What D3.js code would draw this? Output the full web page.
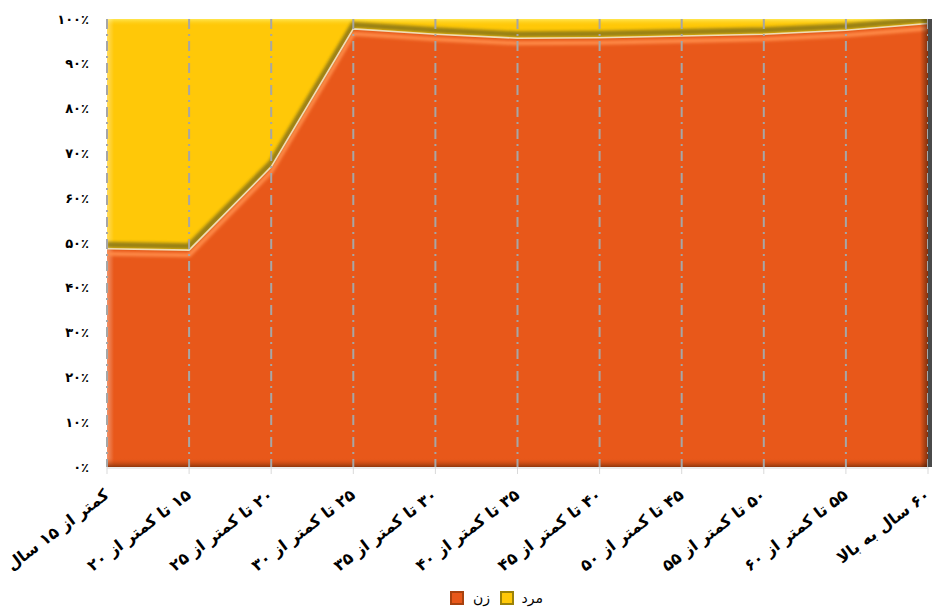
<!DOCTYPE html>
<html>
<head>
<meta charset="utf-8">
<script src="https://cdn.jsdelivr.net/npm/d3@7"></script>
<style>
  body { margin: 0; background: #fff; }
  svg { display: block; font-family: "DejaVu Sans", sans-serif; }
</style>
</head>
<body>
<script>
// age groups, share of women (زن) and men (مرد) in percent
var categories = ["کمتر از ۱۵ سال", "۱۵ تا کمتر از ۲۰", "۲۰ تا کمتر از ۲۵", "۲۵ تا کمتر از ۳۰",
    "۳۰ تا کمتر از ۳۵", "۳۵ تا کمتر از ۴۰", "۴۰ تا کمتر از ۴۵", "۴۵ تا کمتر از ۵۰",
    "۵۰ تا کمتر از ۵۵", "۵۵ تا کمتر از ۶۰", "۶۰ سال به بالا"];
var female = [48.7, 48.4, 67.0, 97.8, 96.6, 95.7, 95.8, 96.2, 96.6, 97.5, 99.0];
var male = [51.3, 51.6, 33.0, 2.2, 3.4, 4.3, 4.2, 3.8, 3.4, 2.5, 1.0];
var yTicks = [0, 10, 20, 30, 40, 50, 60, 70, 80, 90, 100];
var seriesNames = ["زن", "مرد"];

var w = 933, h = 609;
var pLeft = 107, pRight = 928, pTop = 19, pBottom = 467;
var orange = "#E8581A", yellow = "#FFC808";

function fa(s) {
    return String(s).replace(/[0-9]/g, function (c) { return "۰۱۲۳۴۵۶۷۸۹"[+c]; });
}

var rows = categories.map(function (c, i) {
    return { cat: c, female: female[i], male: male[i] };
});

var x = d3.scalePoint().domain(categories).range([pLeft, pRight]);
var y = d3.scaleLinear().domain([0, 1]).range([pBottom, pTop]);

var stack = d3.stack().keys(["female", "male"]).offset(d3.stackOffsetExpand);
var layers = stack(rows);

var svg = d3.select("body").append("svg").attr("width", w).attr("height", h);

var defs = svg.append("defs");
defs.append("clipPath").attr("id", "plot")
    .append("rect").attr("x", pLeft).attr("y", pTop)
    .attr("width", pRight - pLeft).attr("height", pBottom - pTop);
defs.append("filter").attr("id", "soft").attr("x", "-5%").attr("y", "-20%")
    .attr("width", "110%").attr("height", "140%")
    .append("feGaussianBlur").attr("stdDeviation", 1.6);

var gBottom = defs.append("linearGradient").attr("id", "bottomShade")
    .attr("x1", 0).attr("y1", 0).attr("x2", 0).attr("y2", 1);
gBottom.append("stop").attr("offset", "0%").attr("stop-color", orange).attr("stop-opacity", 0);
gBottom.append("stop").attr("offset", "100%").attr("stop-color", "#8E360C");
var gRight = defs.append("linearGradient").attr("id", "rightShade")
    .attr("x1", 0).attr("y1", 0).attr("x2", 1).attr("y2", 0);
gRight.append("stop").attr("offset", "0%").attr("stop-color", "#000").attr("stop-opacity", 0);
gRight.append("stop").attr("offset", "100%").attr("stop-color", "#000").attr("stop-opacity", 0.45);
var gTop = defs.append("linearGradient").attr("id", "topShade")
    .attr("x1", 0).attr("y1", 0).attr("x2", 0).attr("y2", 1);
gTop.append("stop").attr("offset", "0%").attr("stop-color", "#FFE650");
gTop.append("stop").attr("offset", "100%").attr("stop-color", yellow).attr("stop-opacity", 0);
var gLeft = defs.append("linearGradient").attr("id", "leftShade")
    .attr("x1", 0).attr("y1", 0).attr("x2", 1).attr("y2", 0);
gLeft.append("stop").attr("offset", "0%").attr("stop-color", "#fff").attr("stop-opacity", 0.35);
gLeft.append("stop").attr("offset", "100%").attr("stop-color", "#fff").attr("stop-opacity", 0);

var area = d3.area()
    .x(function (d) { return x(d.data.cat); })
    .y0(function (d) { return y(d[0]); })
    .y1(function (d) { return y(d[1]); });

var plot = svg.append("g").attr("clip-path", "url(#plot)");

plot.selectAll("path.layer")
    .data(layers)
    .enter()
    .append("path")
    .attr("class", "layer")
    .attr("d", area)
    .attr("fill", function (d, i) { return i == 0 ? orange : yellow; });

// bevel look
plot.append("rect").attr("x", pLeft).attr("y", pTop).attr("width", pRight - pLeft).attr("height", 7)
    .attr("fill", "url(#topShade)");
plot.append("rect").attr("x", pLeft).attr("y", pTop).attr("width", 7).attr("height", pBottom - pTop)
    .attr("fill", "url(#leftShade)");

var edge = function (dy) {
    return d3.line()
        .x(function (d) { return x(d.data.cat); })
        .y(function (d) { return y(d[1]) + dy; });
};
plot.append("path").attr("d", edge(-4)(layers[0]))
    .attr("fill", "none").attr("stroke", "#8C7812").attr("stroke-width", 6)
    .attr("opacity", 0.9).attr("filter", "url(#soft)");
plot.append("path").attr("d", edge(5)(layers[0]))
    .attr("fill", "none").attr("stroke", "#FF8C48").attr("stroke-width", 4)
    .attr("filter", "url(#soft)");
plot.append("path").attr("d", edge(0)(layers[0]))
    .attr("fill", "none").attr("stroke", "#EFDDB8").attr("stroke-width", 1.6);

plot.append("rect").attr("x", pLeft).attr("y", pBottom - 9).attr("width", pRight - pLeft).attr("height", 9)
    .attr("fill", "url(#bottomShade)");
plot.append("rect").attr("x", pRight - 8).attr("y", pTop).attr("width", 8).attr("height", pBottom - pTop)
    .attr("fill", "url(#rightShade)");

// dash-dot grid lines
svg.selectAll("line.grid")
    .data(categories)
    .enter()
    .append("line")
    .attr("class", "grid")
    .attr("x1", function (d) { return x(d); })
    .attr("x2", function (d) { return x(d); })
    .attr("y1", pTop)
    .attr("y2", pBottom)
    .attr("stroke", "#A6A6A6")
    .attr("stroke-width", 2)
    .attr("stroke-dasharray", "10,5,2,5");

svg.append("rect").attr("x", pRight).attr("y", pTop).attr("width", 4).attr("height", pBottom - pTop)
    .attr("fill", "#4A4A4A");

// x axis
svg.append("line").attr("x1", pLeft).attr("x2", pRight).attr("y1", pBottom + 1).attr("y2", pBottom + 1)
    .attr("stroke", "#D9D9D9").attr("stroke-width", 1);
svg.selectAll("line.tick")
    .data(categories)
    .enter()
    .append("line")
    .attr("class", "tick")
    .attr("x1", function (d) { return x(d); })
    .attr("x2", function (d) { return x(d); })
    .attr("y1", pBottom)
    .attr("y2", pBottom + 7)
    .attr("stroke", "#D9D9D9");

svg.selectAll("text.xlab")
    .data(categories)
    .enter()
    .append("text")
    .attr("class", "xlab")
    .attr("transform", function (d) { return "translate(" + (x(d) + 3) + "," + 497 + ") rotate(-37)"; })
    .attr("direction", "rtl")
    .attr("text-anchor", "start")
    .attr("font-size", 16)
    .attr("font-weight", "bold")
    .attr("fill", "#000")
    .text(function (d) { return d; });

// y axis
svg.selectAll("text.ylab")
    .data(yTicks)
    .enter()
    .append("text")
    .attr("class", "ylab")
    .attr("x", 89)
    .attr("y", function (d) { return y(d / 100); })
    .attr("dy", "0.35em")
    .attr("text-anchor", "end")
    .attr("font-size", 13)
    .attr("font-weight", "bold")
    .text(function (d) { return fa(d) + "٪"; });

// legend
var legend = [
    { name: seriesNames[0], color: orange, border: "#A8420F", sx: 451, tx: 490 },
    { name: seriesNames[1], color: yellow, border: "#9C8208", sx: 501, tx: 543 }
];
var lg = svg.selectAll("g.legend")
    .data(legend)
    .enter()
    .append("g")
    .attr("class", "legend");
lg.append("rect")
    .attr("x", function (d) { return d.sx; })
    .attr("y", 592)
    .attr("width", 12)
    .attr("height", 12)
    .attr("fill", function (d) { return d.color; })
    .attr("stroke", function (d) { return d.border; })
    .attr("stroke-width", 2);
lg.append("text")
    .attr("x", function (d) { return d.tx; })
    .attr("y", 598)
    .attr("dy", "0.35em")
    .attr("text-anchor", "end")
    .attr("font-size", 14)
    .attr("fill", "#000")
    .text(function (d) { return d.name; });
</script>
</body>
</html>
